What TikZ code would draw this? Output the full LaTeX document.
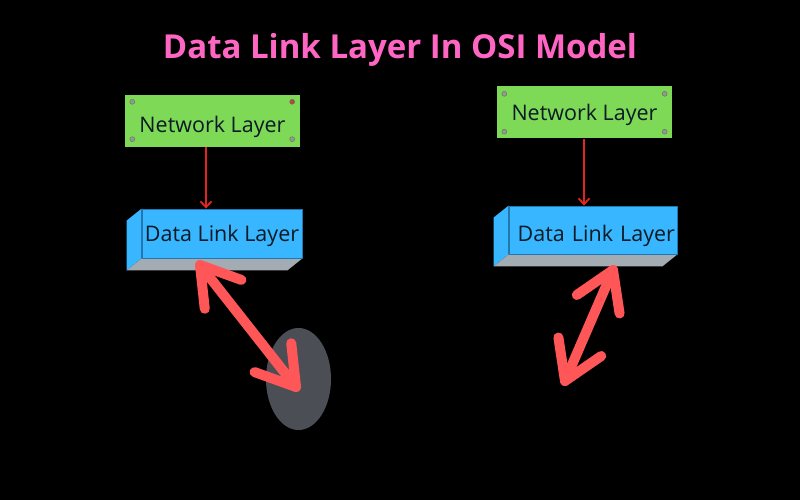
\documentclass[tikz,border=0pt]{standalone}
\usepackage{fontspec}
\setmainfont{Open Sans}
\usetikzlibrary{arrows.meta,calc,shapes.geometric}
\definecolor{titlepink}{HTML}{FF66C4}
\definecolor{netgreen}{HTML}{7ED957}
\definecolor{dlblue}{HTML}{38B6FF}
\definecolor{dlborder}{HTML}{1F78B4}
\definecolor{dlgray}{HTML}{A3ABB3}
\definecolor{thinred}{HTML}{E3241F}
\definecolor{bigred}{HTML}{FF5757}
\definecolor{ellgray}{HTML}{4B4F55}
\definecolor{screw}{HTML}{8F9C8C}
\definecolor{boxtext}{HTML}{0B1A24}
\tikzset{
  netbox/.style={rectangle, fill=netgreen, minimum width=175pt, minimum height=52pt,
    inner sep=0pt, font=\fontsize{21.5}{24}\selectfont, text=boxtext},
  dlface/.style={rectangle, fill=dlblue, draw=dlborder, line width=0.8pt,
    minimum width=160pt, minimum height=49pt, inner sep=0pt,
    font=\fontsize{21.5}{24}\selectfont, text=boxtext},
  thinarrow/.style={draw=thinred, line width=1.8pt, -{Straight Barb[length=6pt,width=11pt]}},
  bigarrow/.style={draw=bigred, line width=10pt, line cap=round, line join=round},
  screwdot/.style={circle, fill=screw, draw=screw!70!black, line width=0.4pt, minimum size=5pt, inner sep=0pt},
  blob/.style={ellipse, fill=ellgray, minimum width=65pt, minimum height=102pt, inner sep=0pt}
}
\newcommand{\lowered}[2]{\raisebox{-#1}[0pt][0pt]{#2}}
\begin{document}
\begin{tikzpicture}[x=1pt,y=-1pt]
\fill[black] (0,0) rectangle (800,500);
\useasboundingbox (0,0) rectangle (800,500);

% title
\node[font=\bfseries\fontsize{33}{38}\selectfont, text=titlepink] (title) at (400,50) {Data Link Layer In OSI Model};

% ---------- left stack ----------
\node[netbox] (nl1) at (212.5,121) {\lowered{11.5pt}{Network Layer}};
\node[screwdot] (s1a) at ($(nl1.north west)+(7.5,7)$) {};
\node[screwdot, fill=red!45!gray] (s1b) at ($(nl1.north east)+(-8,7)$) {};
\node[screwdot] (s1c) at ($(nl1.south west)+(7.5,-8)$) {};
\node[screwdot] (s1d) at ($(nl1.south east)+(-8,-8)$) {};

\path (222,233.5) node[dlface, draw=none, fill=none] (dl1) {};
\fill[dlblue] (dl1.north west) -- ++(-15,12) -- ($(dl1.south west)+(-15,12)$) -- (dl1.south west) -- cycle;
\fill[dlgray] (dl1.south west) -- (dl1.south east) -- ++(-15,12) -- ($(dl1.south west)+(-15,12)$) -- cycle;
\node[dlface] (dl1f) at (dl1) {\lowered{7.7pt}{Data Link Layer}};

\coordinate (t1) at ($(nl1.south)+(-6.5,0)$);
\draw[thinarrow] (t1) -- (t1 |- dl1f.north);

\node[blob] (el1) at (298.5,379) {};
\coordinate (a1) at (200,265);
\coordinate (a2) at (296,387);
\draw[bigarrow] (a1) -- (a2);
\draw[bigarrow] ($(a1)!44pt!32:(a2)$) -- (a1) -- ($(a1)!44pt!-32:(a2)$);
\draw[bigarrow] ($(a2)!44pt!32:(a1)$) -- (a2) -- ($(a2)!44pt!-32:(a1)$);

% ---------- right stack ----------
\node[netbox] (nl2) at (584.5,112.5) {\lowered{7.7pt}{Network Layer}};
\node[screwdot] (s2a) at ($(nl2.north west)+(7.5,7.5)$) {};
\node[screwdot] (s2b) at ($(nl2.north east)+(-7.5,7.5)$) {};
\node[screwdot] (s2c) at ($(nl2.south west)+(7.5,-7)$) {};
\node[screwdot] (s2d) at ($(nl2.south east)+(-7.5,-7)$) {};

\path (593,230) node[dlface, minimum width=168pt, minimum height=48pt, draw=none, fill=none] (dl2) {};
\fill[dlblue] (dl2.north west) -- ++(-15,12) -- ($(dl2.south west)+(-15,12)$) -- (dl2.south west) -- cycle;
\fill[dlgray] (dl2.south west) -- (dl2.south east) -- ++(-15,12) -- ($(dl2.south west)+(-15,12)$) -- cycle;
\node[dlface, minimum width=168pt, minimum height=48pt, text width=164pt, align=right] (dl2f) at (dl2) {\lowered{11.5pt}{Data Link Layer}};

\coordinate (t2) at ($(nl2.south)+(-0.5,0)$);
\draw[thinarrow] (t2) -- (t2 |- dl2f.north);

\coordinate (b1) at (613,270);
\coordinate (b2) at (565,381);
\draw[bigarrow] (b1) -- (b2);
\draw[bigarrow] ($(b1)!44pt!32:(b2)$) -- (b1) -- ($(b1)!44pt!-32:(b2)$);
\draw[bigarrow] ($(b2)!44pt!32:(b1)$) -- (b2) -- ($(b2)!44pt!-32:(b1)$);
\end{tikzpicture}
\end{document}
